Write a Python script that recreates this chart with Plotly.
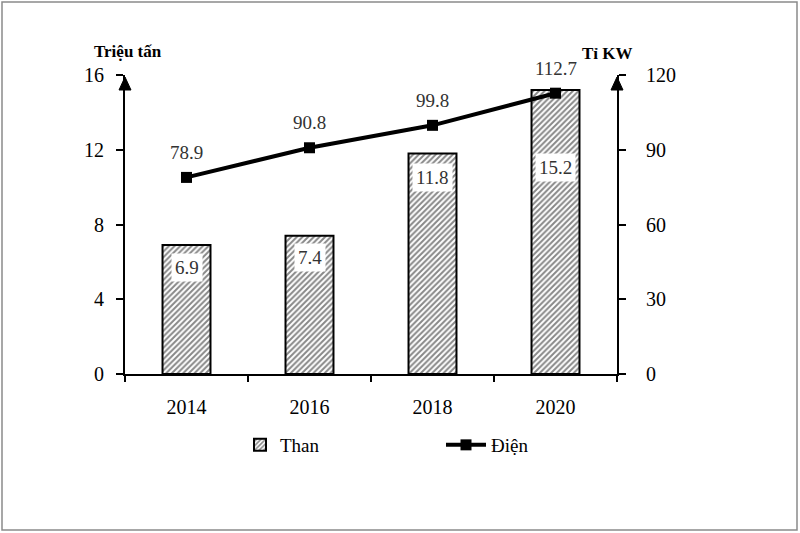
import plotly.graph_objects as go

years = ["2014", "2016", "2018", "2020"]
than = [6.9, 7.4, 11.8, 15.2]
dien = [78.9, 90.8, 99.8, 112.7]
than_label_shift = [-22, -22, -24, -78]

FONT = "'Times New Roman', 'Liberation Serif', Times, serif"
LBL = dict(family=FONT, size=19, color="#333333")

fig = go.Figure()
fig.add_trace(go.Bar(
    x=years, y=than, name="Than", width=0.39,
    marker=dict(color="white", line=dict(color="black", width=2),
                pattern=dict(shape="/", fgcolor="#111111", bgcolor="white", size=4, solidity=0.5)),
    yaxis="y", legend="legend",
))
fig.add_trace(go.Scatter(
    x=years, y=dien, name="Điện", mode="lines+markers",
    line=dict(color="black", width=4),
    marker=dict(symbol="square", size=11, color="black"),
    cliponaxis=False,
    yaxis="y2", legend="legend2",
))

for i, (v, s) in enumerate(zip(than, than_label_shift)):
    fig.add_annotation(x=i, y=v, xref="x", yref="y", text=f"{v}", showarrow=False,
                       yshift=s, bgcolor="white", borderpad=3, font=LBL)
for i, v in enumerate(dien):
    fig.add_annotation(x=i, y=v, xref="x", yref="y2", text=f"{v}", showarrow=False,
                       yshift=25, font=LBL)

# axis arrows
pw, ph = 492, 299
for xa in (0, 1):
    hw = 6 / pw
    fig.add_shape(type="path", xref="paper", yref="paper",
                  path=f"M {xa - hw} {1 - 15/ph} L {xa + hw} {1 - 15/ph} L {xa} {1 - 2/ph} Z",
                  fillcolor="black", line=dict(color="black", width=1))

# outer frame
fig.add_shape(type="rect", xref="paper", yref="paper",
              x0=(2 - 125) / pw, x1=(797 - 125) / pw,
              y0=(374 - 530) / ph, y1=(374 - 2) / ph,
              line=dict(color="#8a8a8a", width=1.5))

fig.add_annotation(x=(128 - 125) / pw, y=(374 - 51) / ph, xref="paper", yref="paper",
                   text="<b>Triệu tấn</b>", showarrow=False, xanchor="center", yanchor="middle",
                   font=dict(family=FONT, size=17, color="black"))
fig.add_annotation(x=(607 - 125) / pw, y=(374 - 53) / ph, xref="paper", yref="paper",
                   text="<b>Tỉ KW</b>", showarrow=False, xanchor="center", yanchor="middle",
                   font=dict(family=FONT, size=17, color="black"))

legend_font = dict(family=FONT, size=19, color="black")
fig.update_layout(
    width=800, height=533,
    margin=dict(l=125, r=183, t=75, b=159),
    paper_bgcolor="white", plot_bgcolor="white",
    font=dict(family=FONT),
    showlegend=True,
    legend=dict(orientation="h", x=(240 - 125) / pw, y=(374 - 445) / ph, xanchor="left", yanchor="middle",
                bgcolor="rgba(0,0,0,0)", font=legend_font),
    legend2=dict(orientation="h", x=(441 - 125) / pw, y=(374 - 445) / ph, xanchor="left", yanchor="middle",
                 bgcolor="rgba(0,0,0,0)", font=legend_font, itemwidth=40),
    xaxis=dict(type="category", range=[-0.5, 3.5], showline=True, linecolor="black", linewidth=2,
               ticks="outside", tickson="boundaries", ticklen=6, tickwidth=2, tickcolor="black",
               ticklabelstandoff=14,
               tickfont=dict(family=FONT, size=20, color="black"), showgrid=False),
    yaxis=dict(range=[0, 16], dtick=4, showline=True, linecolor="black", linewidth=2,
               ticks="outside", ticklen=7, tickwidth=2, tickcolor="black", showgrid=False,
               zeroline=False, ticklabelstandoff=8,
               tickfont=dict(family=FONT, size=20, color="black")),
    yaxis2=dict(range=[0, 120], dtick=30, overlaying="y", side="right", showline=True,
                linecolor="black", linewidth=2, ticks="outside", ticklen=7, tickwidth=2,
                tickcolor="black", showgrid=False, zeroline=False, ticklabelstandoff=16,
                tickfont=dict(family=FONT, size=20, color="black")),
    bargap=0.6,
)

fig.write_html("out.html", config={"displayModeBar": False},
               post_script="document.body.style.margin='0';")
